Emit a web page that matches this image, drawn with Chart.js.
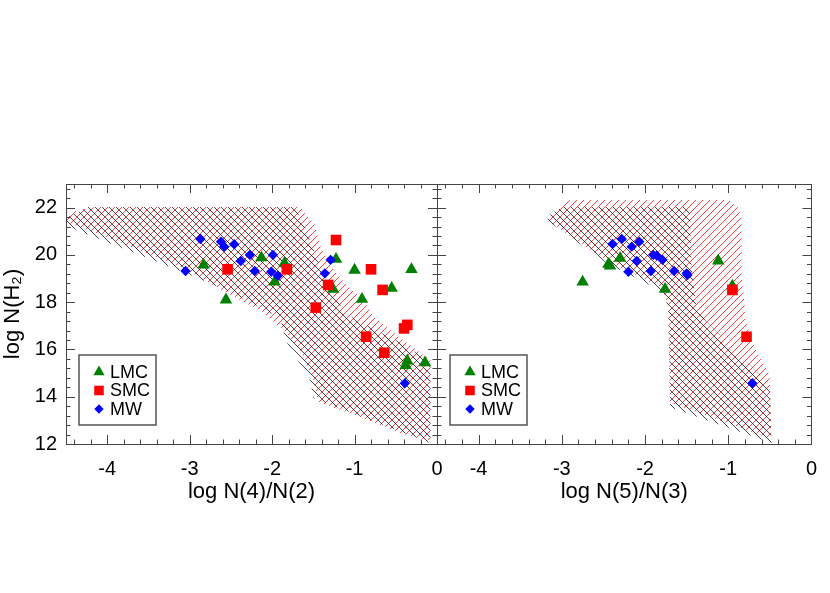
<!DOCTYPE html>
<html>
<head>
<meta charset="utf-8">
<script src="https://cdn.jsdelivr.net/npm/chart.js"></script>
<style>
  html, body { margin: 0; padding: 0; background: #fff; }
  #wrap { position: relative; width: 830px; height: 593px; }
  #wrap canvas { position: absolute; left: 0; top: 0; }
</style>
</head>
<body>
<div id="wrap">
  <canvas id="leftChart" width="830" height="593"></canvas>
  <canvas id="rightChart" width="830" height="593"></canvas>
</div>
<script>
// ---- data ----
const xTicks = [-4, -3, -2, -1, 0];
const yTicks = [12, 14, 16, 18, 20, 22];
const legendNames = ['LMC', 'SMC', 'MW'];

// left panel: log N(4)/N(2)
const lmcLeftX = [-2.83, -2.56, -2.13, -1.97, -1.85, -1.225, -1.26, -1.0, -0.91, -0.55, -0.31, -0.36, -0.38, -0.146];
const lmcLeftY = [19.58, 18.10, 19.88, 18.86, 19.65, 19.82, 18.55, 19.36, 18.13, 18.59, 19.39, 15.52, 15.33, 15.44];
const smcLeftX = [-2.54, -1.82, -1.225, -1.32, -1.47, -0.80, -0.66, -0.86, -0.64, -0.40, -0.36];
const smcLeftY = [19.39, 19.39, 20.63, 18.73, 17.77, 19.39, 18.52, 16.54, 15.86, 16.89, 17.04];
const mwLeftX = [-3.05, -2.87, -2.62, -2.58, -2.46, -2.38, -2.27, -2.21, -1.99, -2.01, -1.93, -1.29, -1.36, -0.39];
const mwLeftY = [19.32, 20.67, 20.56, 20.35, 20.45, 19.74, 20.0, 19.32, 20.0, 19.29, 19.12, 19.79, 19.22, 14.57];

// right panel: log N(5)/N(3)
const lmcRightX = [-2.75, -2.44, -2.42, -2.30, -1.76, -1.12, -0.95];
const lmcRightY = [18.86, 19.61, 19.53, 19.86, 18.55, 19.75, 18.69];
const smcRightX = [-0.95, -0.78];
const smcRightY = [18.52, 16.54];
const mwRightX = [-2.39, -2.28, -2.16, -2.07, -2.10, -2.20, -1.90, -1.86, -1.79, -1.93, -1.65, -1.50, -1.49, -0.71];
const mwRightY = [20.46, 20.67, 20.35, 20.56, 19.74, 19.29, 20.0, 19.97, 19.79, 19.32, 19.32, 19.22, 19.15, 14.57];

// hatched model zones (outline vertices, data units)
const redZoneLeft = [[-4.5,21.77],[-4.15,22.03],[-1.66,22.03],[-1.48,21.27],[-1.42,20.42],[-1.33,19.70],[-1.12,18.81],[-0.90,18.09],[-0.75,17.33],[-0.45,16.49],[-0.08,15.55],[-0.08,12.13],[-0.45,12.47],[-0.93,13.14],[-1.44,13.78],[-1.50,14.71],[-1.66,15.98],[-1.84,16.74],[-2.12,17.59],[-2.57,18.43],[-3.03,19.36],[-3.85,20.55],[-4.5,21.39]];
const blackZoneLeft = [[-4.5,21.56],[-4.23,22.03],[-1.72,22.03],[-1.60,21.14],[-1.44,19.70],[-1.30,18.73],[-1.12,17.54],[-0.75,16.82],[-0.45,16.32],[-0.08,15.47],[-0.08,12.04],[-1.50,13.95],[-1.54,14.71],[-1.84,16.40],[-1.90,17.33],[-2.51,18.43],[-3.08,19.28],[-4.5,21.22]];
const redZoneRight = [[-3.17,21.6],[-3.0,22.2],[-2.9,22.32],[-1.0,22.32],[-0.88,22.0],[-0.84,21.5],[-0.84,19.15],[-0.80,17.75],[-0.80,17.3],[-0.68,16.06],[-0.59,15.47],[-0.50,14.92],[-0.48,12.2],[-0.9,12.75],[-1.70,13.75],[-1.72,17.75],[-1.79,18.6],[-2.46,19.75],[-3.17,21.45]];
const blackZoneRight = [[-3.17,21.65],[-3.0,22.03],[-1.50,22.03],[-1.46,21.9],[-1.44,19.5],[-1.38,17.74],[-1.26,17.17],[-1.10,16.61],[-0.98,16.05],[-0.78,15.48],[-0.62,14.92],[-0.50,14.36],[-0.48,12.04],[-1.70,13.55],[-1.72,17.75],[-1.79,18.45],[-2.46,19.65],[-3.17,21.45]];

// ---- helpers ----
const FONT = '"Liberation Sans", Arial, Helvetica, sans-serif';
const pts = (xs, ys) => xs.map((x, i) => ({ x: x, y: ys[i] }));

function hatch(ctx, color, dir, width) {
  const s = 7;
  const c = document.createElement('canvas');
  c.width = s; c.height = s;
  const g = c.getContext('2d');
  g.strokeStyle = color;
  g.lineWidth = width;
  for (let k = -1; k <= 1; k++) {
    g.beginPath();
    if (dir === 'up') { g.moveTo(k * s, s); g.lineTo(k * s + s, 0); }
    else { g.moveTo(k * s, 0); g.lineTo(k * s + s, s); }
    g.stroke();
  }
  return ctx.createPattern(c, 'repeat');
}

function marker(ctx, style, x, y, r) {
  ctx.beginPath();
  if (style === 'triangle') {
    ctx.moveTo(x, y - r);
    ctx.lineTo(x + r * 0.866, y + r / 2);
    ctx.lineTo(x - r * 0.866, y + r / 2);
  } else if (style === 'rect') {
    const h = r * Math.SQRT1_2;
    ctx.rect(x - h, y - h, 2 * h, 2 * h);
  } else {
    ctx.moveTo(x, y - r); ctx.lineTo(x + r, y); ctx.lineTo(x, y + r); ctx.lineTo(x - r, y);
  }
  ctx.closePath();
  ctx.fill();
}

// hatched zones, drawn under the points through the chart's scales
function zonesPlugin(zones) {
  return {
    id: 'zones',
    beforeDatasetsDraw(chart) {
      const { ctx, chartArea: a, scales: { x, y } } = chart;
      ctx.save();
      ctx.beginPath();
      ctx.rect(a.left, a.top, a.right - a.left, a.bottom - a.top);
      ctx.clip();
      zones.forEach(z => {
        ctx.beginPath();
        z.data.forEach((p, i) => {
          const px = x.getPixelForValue(p[0]), py = y.getPixelForValue(p[1]);
          if (i) ctx.lineTo(px, py); else ctx.moveTo(px, py);
        });
        ctx.closePath();
        ctx.fillStyle = hatch(ctx, z.color, z.dir, z.width);
        ctx.fill();
      });
      ctx.restore();
    }
  };
}

// IDL-style frame with inward ticks on all four sides
const frameTicks = {
  id: 'frameTicks',
  afterDatasetsDraw(chart) {
    const { ctx, chartArea: a, scales: { x, y } } = chart;
    const px = v => Math.round(v) + 0.5;
    ctx.save();
    ctx.strokeStyle = '#444';
    ctx.lineWidth = 1;
    ctx.strokeRect(px(a.left), px(a.top), Math.round(a.right - a.left), Math.round(a.bottom - a.top));
    ctx.beginPath();
    for (let v = -4.4; v < 0; v += 0.2) {
      const major = Math.abs(v - Math.round(v)) < 1e-6;
      const len = major ? 9 : 4.5;
      const xp = px(x.getPixelForValue(v));
      ctx.moveTo(xp, a.bottom); ctx.lineTo(xp, a.bottom - len);
      ctx.moveTo(xp, a.top); ctx.lineTo(xp, a.top + len);
    }
    for (let v = 12.4; v < 23; v += 0.4) {
      const major = Math.abs(v / 2 - Math.round(v / 2)) < 1e-6;
      const len = major ? 9 : 4.5;
      const yp = px(y.getPixelForValue(v));
      ctx.moveTo(a.left, yp); ctx.lineTo(a.left + len, yp);
      ctx.moveTo(a.right, yp); ctx.lineTo(a.right - len, yp);
    }
    ctx.stroke();
    ctx.restore();
  }
};

// boxed legend in lower-left of the plot
const boxLegend = {
  id: 'boxLegend',
  afterDraw(chart) {
    const { ctx, chartArea: a } = chart;
    const items = chart.data.datasets.filter(d => legendNames.includes(d.label));
    const bx = a.left + 13, by = a.bottom - 89, bw = 77, bh = 70;
    ctx.save();
    ctx.strokeStyle = '#555';
    ctx.lineWidth = 1.5;
    ctx.strokeRect(bx, by, bw, bh);
    ctx.font = '18px ' + FONT;
    ctx.textBaseline = 'middle';
    items.forEach((d, i) => {
      const cy = by + 17 + i * 18.5;
      ctx.fillStyle = d.backgroundColor;
      marker(ctx, d.pointStyle, bx + 20, cy, d.pointRadius * 0.9);
      ctx.fillStyle = '#000';
      ctx.fillText(d.label, bx + 31, cy + 1);
    });
    ctx.restore();
  }
};

function series(label, data, color, style, radius, order) {
  return {
    label: label, data: data, pointStyle: style, pointRadius: radius,
    backgroundColor: color, borderColor: color, borderWidth: 0, order: order
  };
}

function makeChart(id, sets, xTitle, showY, padding) {
  const ctx = document.getElementById(id).getContext('2d');
  const zones = [
    { data: sets.red, color: 'rgba(255,0,0,0.75)', dir: 'up', width: 1 },
    { data: sets.black, color: 'rgba(0,0,0,0.8)', dir: 'down', width: 0.9 }
  ];
  return new Chart(ctx, {
    type: 'scatter',
    data: {
      datasets: [
        series('LMC', pts(sets.lmc[0], sets.lmc[1]), '#008000', 'triangle', 7.2, 3),
        series('SMC', pts(sets.smc[0], sets.smc[1]), '#ff0000', 'rect', 7.5, 2),
        series('MW', pts(sets.mw[0], sets.mw[1]), '#0000ff', 'rectRot', 5.2, 1)
      ]
    },
    options: {
      responsive: false,
      animation: false,
      events: [],
      layout: { padding: padding },
      plugins: { legend: { display: false }, tooltip: { enabled: false } },
      scales: {
        x: {
          type: 'linear', min: -4.5, max: 0,
          afterBuildTicks: s => { s.ticks = xTicks.map(v => ({ value: v })); },
          afterFit: s => { s.height = 149; },
          grid: { display: false, drawTicks: false },
          border: { display: false },
          ticks: { color: '#000', padding: 13, font: { family: FONT, size: 20 } },
          title: { display: true, text: xTitle, color: '#000', padding: { top: 0, bottom: 88 }, font: { family: FONT, size: 22 } }
        },
        y: {
          type: 'linear', min: 12, max: 23,
          afterBuildTicks: s => { s.ticks = yTicks.map(v => ({ value: v })); },
          afterFit: s => { s.width = 66; },
          grid: { display: false, drawTicks: false },
          border: { display: false },
          ticks: { display: showY, color: '#000', padding: 9, font: { family: FONT, size: 20 } },
          title: { display: showY, text: 'log N(H\u2082)', color: '#000', padding: { top: 0, bottom: 0 }, font: { family: FONT, size: 22 } }
        }
      }
    },
    plugins: [zonesPlugin(zones), frameTicks, boxLegend]
  });
}

makeChart('leftChart', {
  lmc: [lmcLeftX, lmcLeftY], smc: [smcLeftX, smcLeftY], mw: [mwLeftX, mwLeftY],
  red: redZoneLeft, black: blackZoneLeft
}, 'log N(4)/N(2)', true, { top: 184, right: 393, left: 0, bottom: 0 });

makeChart('rightChart', {
  lmc: [lmcRightX, lmcRightY], smc: [smcRightX, smcRightY], mw: [mwRightX, mwRightY],
  red: redZoneRight, black: blackZoneRight
}, 'log N(5)/N(3)', false, { top: 184, right: 18, left: 371, bottom: 0 });
</script>
</body>
</html>
